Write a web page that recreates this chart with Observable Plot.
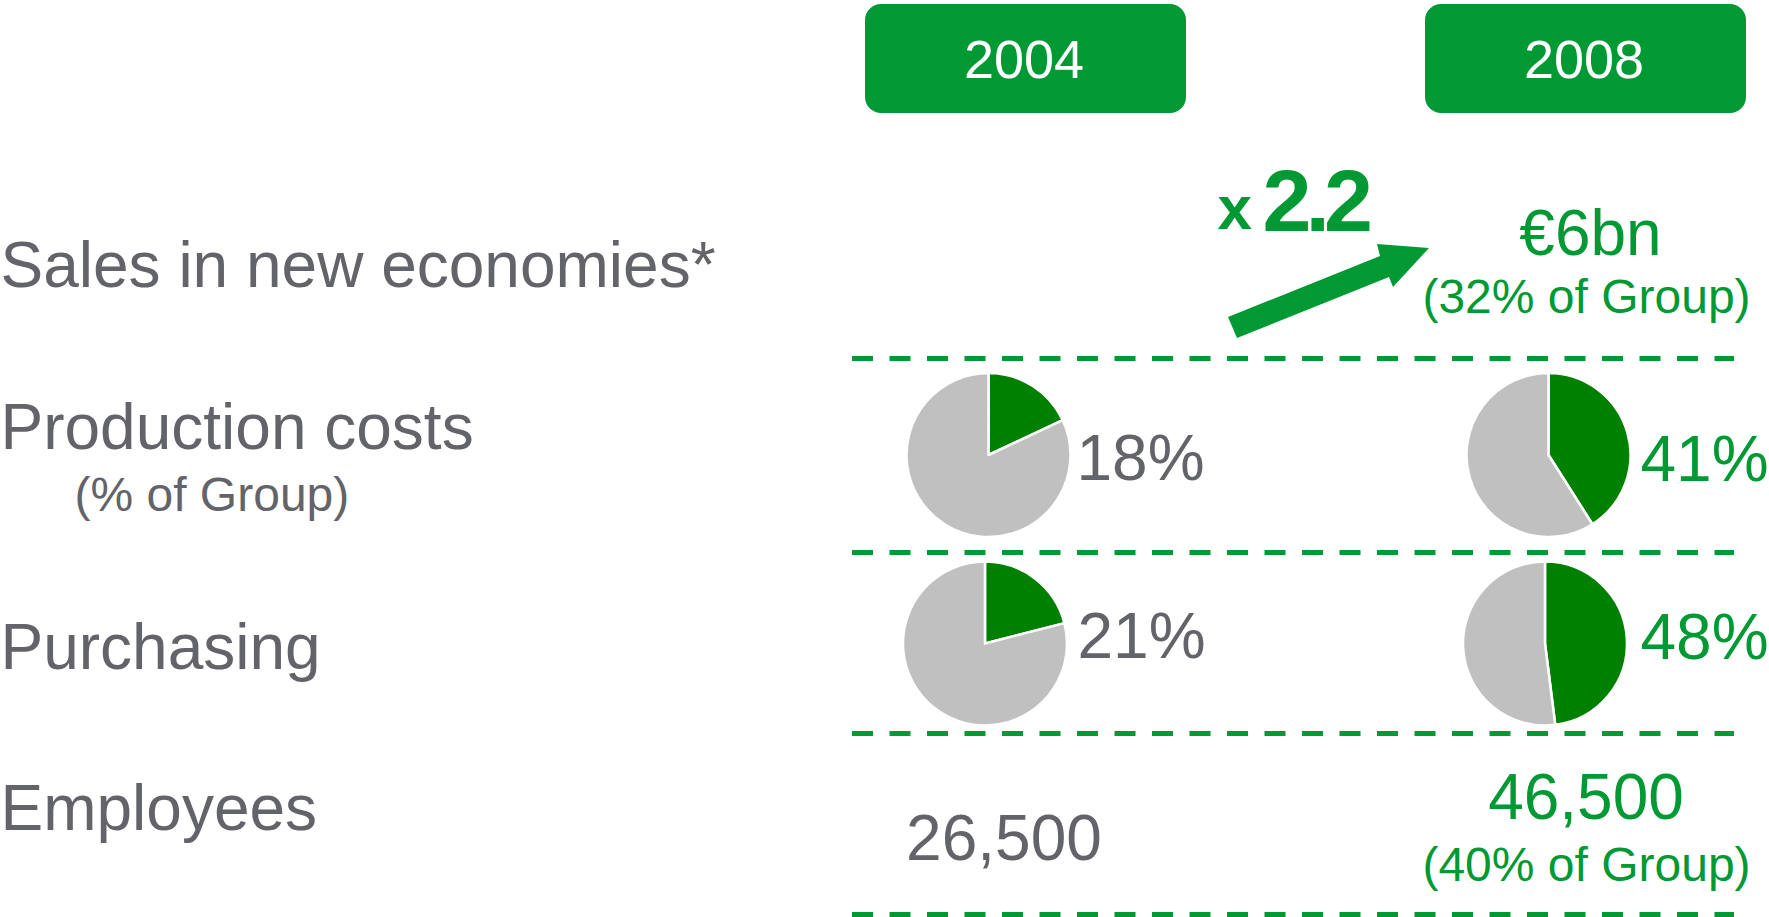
<!DOCTYPE html>
<html>
<head>
<meta charset="utf-8">
<script src="https://cdn.jsdelivr.net/npm/d3@7"></script>
<script src="https://cdn.jsdelivr.net/npm/@observablehq/plot@0.6"></script>
<style>
  html, body { margin: 0; padding: 0; background: #ffffff; }
  #chart svg { display: block; }
</style>
</head>
<body>
<div id="chart"></div>
<script>
// ---------------- DATA ----------------
const years = ["2004", "2008"];
const rows = ["Sales in new economies*", "Production costs", "Purchasing", "Employees"];
const rowNotes = ["", "(% of Group)", "", ""];
const salesValue2008 = "€6bn";
const salesShare2008 = 32;          // % of Group
const salesGrowth = 2.2;            // multiplier 2004 -> 2008
const productionShare = [18, 41];   // % of Group, 2004 / 2008
const purchasingShare = [21, 48];   // % of Group, 2004 / 2008
const employees = [26500, 46500];   // 2004 / 2008
const employeesShare2008 = 40;      // % of Group

// ---------------- STYLE / LAYOUT ----------------
const GREEN = "#009933";
const PIE_GREEN = "#008000";
const PIE_GRAY = "#c0c0c0";
const GRAY = "#636469";
const FONT = "Liberation Sans, Arial, Helvetica, sans-serif";
const W = 1769, H = 917;
const PIE_R = 82;
const PIE_OFFSET = {1: [-37, 0], 2: [-40.5, 1]};  // per row [dx, dy]
// arrow outline, relative to the 2008 column centre on the sales row
const arrowShape = [[-357.5, 81.5], [-205.5, 20.5], [-208.5, 8.5], [-156.5, 12.5], [-192.5, 51.5], [-196.5, 41.5], [-348.5, 102.5]];

const fmt = d3.format(",");
const rowPos = i => i + 0.5;

const pieData = [
  {row: 1, year: years[0], value: productionShare[0]},
  {row: 1, year: years[1], value: productionShare[1]},
  {row: 2, year: years[0], value: purchasingShare[0]},
  {row: 2, year: years[1], value: purchasingShare[1]}
];

function xCenter(scales, v) {
  const sx = scales.x;
  return sx(v) + (typeof sx.bandwidth === "function" ? sx.bandwidth() / 2 : 0);
}

function pieMark(index, scales) {
  const g = d3.create("svg:g");
  const pie = d3.pie().sort(null).value(d => d.v);
  const arc = d3.arc().innerRadius(0).outerRadius(PIE_R);
  for (const p of pieData) {
    const [odx, ody] = PIE_OFFSET[p.row];
    const cx = xCenter(scales, p.year) + odx;
    const cy = scales.y(rowPos(p.row)) + ody;
    const arcs = pie([{v: p.value, c: PIE_GREEN}, {v: 100 - p.value, c: PIE_GRAY}]);
    g.append("g")
      .attr("transform", `translate(${cx},${cy})`)
      .selectAll("path").data(arcs).join("path")
      .attr("d", arc)
      .attr("fill", d => d.data.c)
      .attr("stroke", "#ffffff")
      .attr("stroke-width", 2.5)
      .attr("stroke-linejoin", "round");
  }
  return g.node();
}

function arrowMark(index, scales) {
  const X = xCenter(scales, years[1]);
  const Y = scales.y(rowPos(0));
  const pts = arrowShape.map(([dx, dy]) => [X + dx, Y + dy]);
  const g = d3.create("svg:g");
  g.append("path")
    .attr("d", "M" + pts.map(p => p.join(",")).join("L") + "Z")
    .attr("fill", GREEN);
  return g.node();
}

function txt(value, opts) {
  return Plot.text([value], Object.assign({
    text: d => d,
    fontFamily: FONT,
    fontSize: 64,
    fill: GRAY,
    lineAnchor: "middle"
  }, opts));
}

const marks = [
  // header boxes and years
  Plot.barY(years, {x: d => d, y1: () => -1, y2: () => 0, fill: GREEN, rx: 16}),
  Plot.text(years, {x: d => d, y: () => -0.5, text: d => d, fill: "#ffffff", fontSize: 54, fontFamily: FONT, dy: 2, dx: -2}),

  // dashed separators
  Plot.ruleY(rows.map((r, i) => i + 1), {y: d => d, stroke: GREEN, strokeWidth: 5, strokeDasharray: "21 16.5", insetLeft: 852, insetRight: 35}),

  // row labels
  txt(rows[0], {frameAnchor: "left", y: () => rowPos(0), textAnchor: "start", dy: 31}),
  txt(rows[1], {frameAnchor: "left", y: () => rowPos(1), textAnchor: "start", dy: -26.5}),
  txt(rowNotes[1], {frameAnchor: "left", y: () => rowPos(1), textAnchor: "start", dx: 74, dy: 40, fontSize: 48}),
  txt(rows[2], {frameAnchor: "left", y: () => rowPos(2), textAnchor: "start", dy: 6}),
  txt(rows[3], {frameAnchor: "left", y: () => rowPos(3), textAnchor: "start", dy: -14}),

  // sales row
  arrowMark,
  txt("x", {x: () => years[1], y: () => rowPos(0), textAnchor: "start", dx: -368.5, dy: -26.5, fontSize: 62, fontWeight: "bold", fill: GREEN}),
  txt(String(salesGrowth), {x: () => years[1], y: () => rowPos(0), textAnchor: "start", dx: -323.5, dy: -33.5, fontSize: 88, fontWeight: "bold", fill: GREEN}),
  txt(salesValue2008, {x: () => years[1], y: () => rowPos(0), textAnchor: "middle", dx: 4.5, dy: -1, fill: GREEN}),
  txt(`(${salesShare2008}% of Group)`, {x: () => years[1], y: () => rowPos(0), textAnchor: "middle", dx: 0.5, dy: 61.5, fontSize: 48, fill: GREEN}),

  // pies
  pieMark,
  txt(productionShare[0] + "%", {x: () => years[0], y: () => rowPos(1), textAnchor: "start", dx: 50.5, dy: 4.5}),
  txt(productionShare[1] + "%", {x: () => years[1], y: () => rowPos(1), textAnchor: "start", dx: 54.5, dy: 5.5, fill: GREEN}),
  txt(purchasingShare[0] + "%", {x: () => years[0], y: () => rowPos(2), textAnchor: "start", dx: 51.5, dy: -5}),
  txt(purchasingShare[1] + "%", {x: () => years[1], y: () => rowPos(2), textAnchor: "start", dx: 54.5, dy: -4, fill: GREEN}),

  // employees
  txt(fmt(employees[0]), {x: () => years[0], y: () => rowPos(3), textAnchor: "middle", dx: -22, dy: 16}),
  txt(fmt(employees[1]), {x: () => years[1], y: () => rowPos(3), textAnchor: "middle", dx: 0, dy: -25, fill: GREEN}),
  txt(`(${employeesShare2008}% of Group)`, {x: () => years[1], y: () => rowPos(3), textAnchor: "middle", dx: 0.5, dy: 41.5, fontSize: 48, fill: GREEN})
];

const chart = Plot.plot({
  width: W,
  height: H,
  margin: 0,
  style: {fontFamily: FONT, background: "#ffffff", overflow: "visible"},
  x: {type: "band", domain: years, range: [865, 1746], paddingInner: 0.4268, paddingOuter: 0, round: false, axis: null},
  y: {type: "linear", domain: [-1, 0, 1, 2, 3, 4], range: [4, 113, 358, 552, 733, 914], axis: null},
  marks
});

d3.select(chart).selectAll("text")
  .filter(function () { return this.textContent === String(salesGrowth); })
  .attr("letter-spacing", -6);

document.getElementById("chart").appendChild(chart);
</script>
</body>
</html>
